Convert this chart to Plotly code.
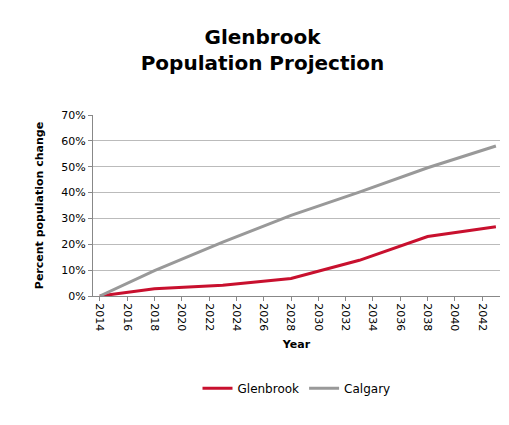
import plotly.graph_objects as go

years = [2014, 2018, 2023, 2028, 2033, 2038, 2043]
glenbrook = [0, 2.8, 4.2, 6.8, 13.8, 23.0, 26.8]
calgary = [0, 9.8, 20.8, 31.2, 40.2, 49.6, 58.0]
tick_years = list(range(2014, 2043, 2))

fig = go.Figure()
fig.add_trace(go.Scatter(x=years, y=glenbrook, mode="lines", name="Glenbrook",
                         line=dict(color="#c8102e", width=3)))
fig.add_trace(go.Scatter(x=years, y=calgary, mode="lines", name="Calgary",
                         line=dict(color="#999999", width=3)))
fig.update_layout(
    width=509, height=425, paper_bgcolor="white", plot_bgcolor="white",
    font=dict(family="DejaVu Sans", color="black", size=11),
    title=dict(text="<b>Glenbrook<br>Population Projection</b>", x=0.5, y=0.915,
               xanchor="center", yanchor="top", font=dict(size=20)),
    margin=dict(l=85, r=17, t=107, b=137),
    legend=dict(orientation="h", x=0.5, xanchor="center", y=-0.43, yanchor="top",
                font=dict(size=12)),
    xaxis=dict(range=[2013.5, 2043.3], tickvals=tick_years, tickangle=90,
               showgrid=False, showline=True, linecolor="#888", ticks="outside",
               tickcolor="#888", ticklen=4, automargin=False,
               title=dict(text="<b>Year</b>", font=dict(size=11), standoff=10)),
    yaxis=dict(range=[0, 70], dtick=10, ticksuffix="%", showgrid=True,
               gridcolor="#bbbbbb", showline=True, linecolor="#888", ticks="outside",
               tickcolor="#888", ticklen=4, zeroline=False, automargin=False,
               title=dict(text="<b>Percent population change</b>", font=dict(size=11))),
)
fig.write_html("out.html")
